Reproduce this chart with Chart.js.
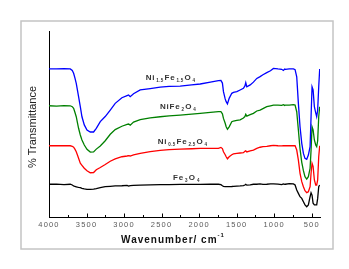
<!DOCTYPE html>
<html><head><meta charset="utf-8">
<script src="https://cdn.jsdelivr.net/npm/chart.js@4/dist/chart.umd.min.js"></script>
<style>html,body{margin:0;padding:0;background:#fff;}canvas{display:block;}</style>
</head><body>
<canvas id="c" width="349" height="269"></canvas>
<script>
// Wavenumbers (cm^-1), shared by all series
const wavenumbers = [4000,3900,3800,3717,3690,3672,3655,3637,3620,3606,3583,3561,3530,3494,3450,3406,3370,3317,3251,3184,3118,3029,2960,2940,2918,2874,2785,2652,2519,2400,2253,2100,1986,1850,1743,1710,1690,1676,1653,1640,1623,1600,1565,1543,1498,1454,1410,1390,1379,1365,1320,1277,1232,1188,1150,1099,1050,1010,950,900,878,860,850,800,744,722,700,678,656,633,611,590,567,545,522,509,496,482,465,447,434,421,407,394];
// Relative transmittance (offset traces, arbitrary units)
const ni15 = [79.6,79.6,79.8,79.6,78.8,77.3,74.8,71.9,68,64.7,59.3,53.9,49.5,46.8,45.7,45.7,47.7,51.3,54,57.5,61.1,64.1,65.3,65.6,64.7,66.3,68.3,69,69.8,70.2,70.4,71,71.5,72.5,73.3,73.4,72,67.4,63.5,62,60.8,63.8,66.5,67,67.4,68.3,69.2,70.5,72.2,70,71,72.5,74.5,75.5,76.5,77.6,78.6,79.9,79.6,79.4,78.8,79.6,79.4,79.6,79.6,79.2,75.4,61.1,48.5,39.6,34.2,31.5,31,33.3,37.8,53.9,70,68.3,59.3,56,53.9,57.5,70,79.6];
const ni10 = [59.8,59.6,59.9,59.8,59.3,58.4,56.3,53.9,50.5,47.7,44.1,41.4,38.7,36.4,34.9,35,36.5,38.2,41,44.5,47,48.8,49.8,50,49.4,51,52.3,53.3,53.9,54.4,54.8,55.3,55.7,56.2,56.6,56.6,55.5,53,50.4,48.5,47.2,48.5,51.2,51.6,52,52.2,53.2,54,55.2,54.2,55,55.7,57,57.5,58.3,59.3,59.8,60.2,60.2,60,60.4,60,60.2,60.2,60.4,60.2,56.6,46.8,36.6,29.4,24.9,21.7,20.4,21.7,26.2,36,48.5,46.8,41.4,38.7,37.8,41,53.9,59.3];
const ni05 = [38.3,38.3,38.3,38.3,38,37.5,36.5,35.1,33.2,31.6,28.9,27.8,26.2,24.9,23.8,23.9,25.4,26.6,28.2,30,31.2,32.4,32.8,33,32.8,33.4,34.2,35.1,35.8,36.2,36.5,36.7,36.9,36.9,36.9,37.4,36.8,35.1,33.5,32.4,31.3,32.4,33.5,33.9,34.2,34.4,34.6,35.3,35.6,35,35.6,36,36.9,37.5,37.8,38,38.3,38.5,38.3,38.2,38.4,38.3,38.3,38.3,38.3,38.3,36,30.6,23.5,19,16.3,14.1,13.1,13.6,16.3,23.5,28.9,27.2,19.9,17.2,17.2,19.9,32.4,38.3];
const fe3o4 = [17.6,17.7,17.4,17.6,17.2,16.7,16.4,16.2,16,15.9,15.8,15.4,15.1,14.9,14.9,15,15.3,15.8,16.3,16.5,16.7,16.8,17,16.6,16.9,17,17.1,17.3,17.4,17.4,17.5,17.5,17.5,17.6,17.6,17.4,16.8,16.5,16.3,16.3,16.3,16.3,16.4,16.5,16.6,16.7,16.9,17.2,17.6,17.1,17.3,17.6,17.6,17.8,17.5,17.6,17.8,17.8,17.7,17.4,17.8,17.6,17.6,17.9,17.8,17.2,14.5,12.7,10.9,10,8.2,6.5,5.5,6.5,10.9,13,11.8,7.4,6.5,6.5,6.5,10,16.3,17.2];
const tickValues = [4000,3500,3000,2500,2000,1500,1000,500];
const minorTickValues = [3750,3250,2750,2250,1750,1250,750];
const seriesNames = ["Ni1.5Fe1.5O4","NiFe2O4","Ni0.5Fe2.5O4","Fe3O4"];
const seriesColors = ["#0000ff","#008000","#ff0000","#000000"];
// label formula parts: [text, isSubscript]
const labelParts = [
  [["Ni",0],["1.5",1],["Fe",0],["1.5",1],["O",0],["4",1]],
  [["NiFe",0],["2",1],["O",0],["4",1]],
  [["Ni",0],["0.5",1],["Fe",0],["2.5",1],["O",0],["4",1]],
  [["Fe",0],["3",1],["O",0],["4",1]]
];
const labelAnchorX = [2374,2274,2214,2163];
const labelAnchorY = [74.9,59.3,40.2,21];

const allSeries = [ni15, ni10, ni05, fe3o4];
const datasets = allSeries.map((vals,i)=>({
  label: seriesNames[i],
  data: wavenumbers.map((w,j)=>({x:w,y:vals[j]})),
  borderColor: seriesColors[i],
  borderWidth: 1.3,
  pointRadius: 0,
  tension: 0,
  fill: false
}));

const deco = {
  id:'deco',
  beforeDraw(chart){
    const ctx = chart.ctx;
    ctx.save();
    ctx.strokeStyle = '#c4c4c4';
    ctx.lineWidth = 1.5;
    ctx.strokeRect(21,21,312,228);
    ctx.restore();
    ctx.letterSpacing = '1.2px';
  },
  beforeDatasetsDraw(chart){
    chart.ctx.letterSpacing = '0px';
  },
  afterDraw(chart){
    const ctx = chart.ctx;
    const xs = chart.scales.x, ys = chart.scales.y;
    const bottom = chart.chartArea.bottom;
    ctx.save();
    ctx.strokeStyle = '#000';
    ctx.lineWidth = 1;
    tickValues.forEach(v=>{
      const px = Math.round(xs.getPixelForValue(v))+0.5;
      ctx.beginPath(); ctx.moveTo(px,bottom); ctx.lineTo(px,bottom-3.5); ctx.stroke();
    });
    minorTickValues.forEach(v=>{
      const px = Math.round(xs.getPixelForValue(v))+0.5;
      ctx.beginPath(); ctx.moveTo(px,bottom); ctx.lineTo(px,bottom-2); ctx.stroke();
    });
    // curve labels
    ctx.fillStyle = '#333';
    ctx.textBaseline = 'middle';
    const mainFont = 'bold 8px Arial', subFont = 'bold 4.5px Arial';
    labelParts.forEach((parts,i)=>{
      const cx = xs.getPixelForValue(labelAnchorX[i]);
      const cy = ys.getPixelForValue(labelAnchorY[i]);
      let w = 0;
      parts.forEach(p=>{
        ctx.font = p[1] ? subFont : mainFont;
        ctx.letterSpacing = p[1] ? '0.3px' : '0.8px';
        w += ctx.measureText(p[0]).width + 1;
      });
      let x = cx - w/2;
      ctx.textAlign = 'left';
      parts.forEach(p=>{
        ctx.font = p[1] ? subFont : mainFont;
        ctx.letterSpacing = p[1] ? '0.3px' : '0.8px';
        ctx.fillText(p[0], x, p[1] ? cy+3 : cy);
        x += ctx.measureText(p[0]).width + 1;
      });
    });
    // x title
    ctx.fillStyle = '#111';
    ctx.letterSpacing = '1px';
    ctx.font = 'bold 10px Arial';
    const t1 = 'Wavenumber/ cm';
    const w1 = ctx.measureText(t1).width;
    ctx.font = 'bold 6px Arial';
    const t2 = '-1';
    const w2 = ctx.measureText(t2).width;
    let sx = 173 - (w1+w2)/2;
    ctx.textAlign = 'left';
    ctx.textBaseline = 'alphabetic';
    ctx.font = 'bold 10px Arial';
    ctx.fillText(t1, sx, 243);
    ctx.font = 'bold 6px Arial';
    ctx.fillText(t2, sx + w1, 237);
    // y title
    ctx.letterSpacing = '0px';
    ctx.translate(33,127);
    ctx.rotate(-Math.PI/2);
    ctx.font = '11px Arial';
    ctx.textAlign = 'center';
    ctx.textBaseline = 'middle';
    ctx.fillStyle = '#222';
    ctx.fillText('% Transmittance',0,0);
    ctx.restore();
  }
};

new Chart(document.getElementById('c'), {
  type: 'line',
  data: { datasets },
  options: {
    responsive: false,
    animation: false,
    events: [],
    layout: { padding: { top: 31, right: 29, left: 0, bottom: 0 } },
    plugins: { legend: { display: false }, tooltip: { enabled: false } },
    scales: {
      x: {
        type: 'linear',
        reverse: true,
        min: 390, max: 4000,
        afterFit(s){ s.height = 52; },
        afterBuildTicks(s){ s.ticks = tickValues.map(v=>({value:v})); },
        grid: { display: true, drawOnChartArea: false, drawTicks: false, color: 'rgba(0,0,0,0)' },
        border: { display: true, color: '#000', width: 1 },
        ticks: { color: '#5a5a5a', font: { family: 'Arial', size: 7.5 }, padding: 3, maxRotation: 0, autoSkip: false,
                 callback: v => String(v) }
      },
      y: {
        type: 'linear',
        min: 0, max: 100,
        afterFit(s){ s.width = 49; },
        grid: { display: true, drawOnChartArea: false, drawTicks: false, color: 'rgba(0,0,0,0)' },
        border: { display: true, color: '#000', width: 1 },
        ticks: { display: false }
      }
    }
  },
  plugins: [deco]
});
</script>
</body></html>
